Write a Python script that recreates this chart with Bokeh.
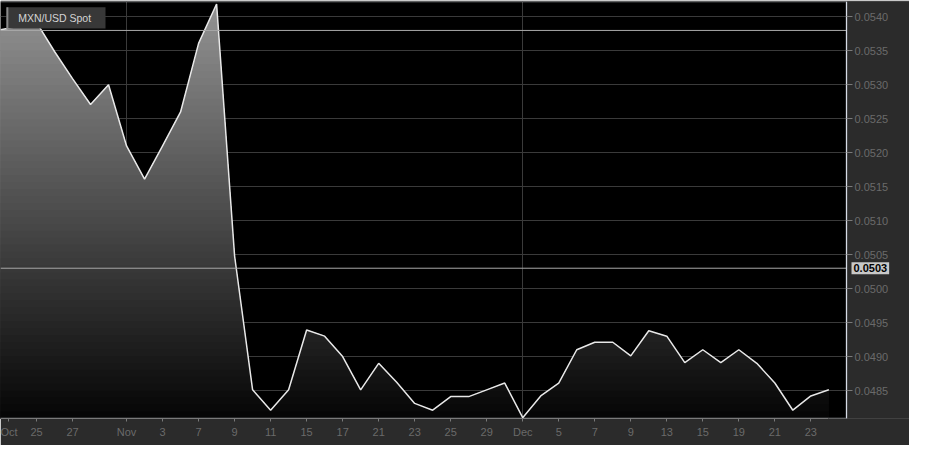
import numpy as np
from bokeh.plotting import figure
from bokeh.models import Range1d, FixedTicker, Label, BoxAnnotation, LinearAxis
from bokeh.embed import file_html
from bokeh.resources import INLINE

# ---------------- data ----------------
series_name = "MXN/USD Spot"
dates = ["2022-10-21", "2022-10-24", "2022-10-25", "2022-10-26", "2022-10-27", "2022-10-28",
         "2022-10-31", "2022-11-01", "2022-11-02", "2022-11-03", "2022-11-04", "2022-11-07",
         "2022-11-08", "2022-11-09", "2022-11-10", "2022-11-11", "2022-11-14", "2022-11-15",
         "2022-11-16", "2022-11-17", "2022-11-18", "2022-11-21", "2022-11-22", "2022-11-23",
         "2022-11-24", "2022-11-25", "2022-11-28", "2022-11-29", "2022-11-30", "2022-12-01",
         "2022-12-02", "2022-12-05", "2022-12-06", "2022-12-07", "2022-12-08", "2022-12-09",
         "2022-12-12", "2022-12-13", "2022-12-14", "2022-12-15", "2022-12-16", "2022-12-19",
         "2022-12-20", "2022-12-21", "2022-12-22", "2022-12-23", "2022-12-26"]
spot = [0.05381, 0.05386, 0.05392, 0.05349, 0.05309, 0.05271, 0.05300, 0.05210, 0.05161,
        0.05210, 0.05260, 0.05361, 0.05419, 0.05048, 0.04851, 0.04821, 0.04851, 0.04939,
        0.04930, 0.04900, 0.04851, 0.04890, 0.04862, 0.04831, 0.04821, 0.04841, 0.04841,
        0.04851, 0.04861, 0.04810, 0.04842, 0.04861, 0.04910, 0.04921, 0.04921, 0.04901,
        0.04938, 0.04930, 0.04891, 0.04910, 0.04891, 0.04910, 0.04890, 0.04861, 0.04821,
        0.04842, 0.04851]
x_tick_dates = ["2022-10-21", "2022-10-25", "2022-10-27", "2022-11-01", "2022-11-03", "2022-11-07",
                "2022-11-09", "2022-11-11", "2022-11-15", "2022-11-17", "2022-11-21", "2022-11-23",
                "2022-11-25", "2022-11-29", "2022-12-01", "2022-12-05", "2022-12-07", "2022-12-09",
                "2022-12-13", "2022-12-15", "2022-12-19", "2022-12-21", "2022-12-23"]
x_tick_labels = ["Oct", "25", "27", "Nov", "3", "7", "9", "11", "15", "17", "21", "23",
                 "25", "29", "Dec", "5", "7", "9", "13", "15", "19", "21", "23"]
month_start_dates = ["2022-11-01", "2022-12-01"]
y_ticks = [0.0485, 0.0490, 0.0495, 0.0500, 0.0505, 0.0510, 0.0515, 0.0520,
           0.0525, 0.0530, 0.0535, 0.0540]
y_tick_labels = ["0.0485", "0.0490", "0.0495", "0.0500", "0.0505", "0.0510", "0.0515",
                 "0.0520", "0.0525", "0.0530", "0.0535", "0.0540"]
ref_level = 0.0538
cursor_level = 0.0503
cursor_text = "0.0503"

# ---------------- layout ----------------
W, H = 909, 445
BOTTOM, TOP = 27, 1
PLOT_W = 846                       # width of the black plotting region
X0, X1 = 0.0, 46.98                # x range of the black plotting region
XE = X0 + (X1 - X0) * W / PLOT_W   # frame also spans the axis strip on the right
Y0, Y1 = 0.048088, 0.054226
REF_W, REF_H = 862.0, 434.0        # reference region size, for placing the legend box


def xd(px):
    return X0 + (X1 - X0) * px / REF_W


def yd(py):
    return Y1 - (Y1 - Y0) * py / REF_H


FONT = "Liberation Sans"
AXIS_BG = "#2b2b2b"
BORDER = "#d6dbe6"

p = figure(width=W, height=H, x_range=Range1d(X0, XE), y_range=Range1d(Y0, Y1),
           y_axis_location=None, output_backend="svg", toolbar_location=None,
           min_border_left=0, min_border_top=TOP, min_border_right=0,
           min_border_bottom=BOTTOM)
p.background_fill_color = "#000000"
p.border_fill_color = AXIS_BG
p.outline_line_color = None

idx = {d: i for i, d in enumerate(dates)}
xs = np.arange(len(spot), dtype=float)
vals = np.array(spot)

# grids
p.ygrid.ticker = FixedTicker(ticks=y_ticks)
p.xgrid.ticker = FixedTicker(ticks=[idx[d] for d in month_start_dates])
p.grid.grid_line_color = "#3a3a3a"
p.grid.grid_line_width = 1

# axis strip on the right (grey), below the axis itself
p.add_layout(BoxAnnotation(left=X1, fill_color=AXIS_BG, fill_alpha=1, line_alpha=0,
                           level="glyph"))

# ---------------- gradient area (stacked bands, painted top colour first) ----------------
n_bands = 60
levels = np.linspace(Y0, Y1, n_bands + 1)
px_, py_ = [xs[0]], [vals[0]]
for i in range(len(vals) - 1):
    a, b = vals[i], vals[i + 1]
    lo, hi = min(a, b), max(a, b)
    cr = levels[(levels > lo) & (levels < hi)]
    if len(cr) and b != a:
        for t in np.sort((cr - a) / (b - a)):
            px_.append(xs[i] + t)
            py_.append(a + t * (b - a))
    px_.append(xs[i + 1])
    py_.append(b)
px_ = np.array(px_)
py_ = np.array(py_)
g_top, g_bot = 148, 5
for k in range(n_bands, 0, -1):
    top = levels[k]
    t = ((levels[k] + levels[k - 1]) / 2 - Y0) / (Y1 - Y0)
    g = int(round(g_bot + (g_top - g_bot) * t))
    p.varea(x=px_, y1=Y0, y2=np.minimum(py_, top), fill_color=(g, g, g))

p.line(xs, vals, line_color="#e8e8e8", line_width=1.5)

# horizontal reference lines across the plotting region only
p.segment(x0=[X0, X0], x1=[X1, X1], y0=[ref_level, cursor_level], y1=[ref_level, cursor_level],
          line_color="#a8a8a8", line_width=1)

# plot border (top + right + bottom-right), left edge kept off-canvas
p.add_layout(BoxAnnotation(left=X0 - 1, right=X1, top=Y1, bottom=Y0, fill_alpha=0,
                           line_color=BORDER, line_width=2, level="glyph"))

# cursor value tag on the axis
p.add_layout(Label(x=X1, y=cursor_level, x_offset=5, text=cursor_text, text_font=FONT,
                   text_font_size="11px", text_font_style="bold", text_color="#000000",
                   text_baseline="middle", text_align="left", background_fill_color="#c8c8c8",
                   padding=2))

# legend box
p.add_layout(BoxAnnotation(left=xd(6), right=xd(107), top=yd(6), bottom=yd(28),
                           fill_color="#383838", fill_alpha=1, line_alpha=0))
p.add_layout(BoxAnnotation(left=xd(6), right=xd(8), top=yd(6), bottom=yd(28),
                           fill_color="#8a8a8a", fill_alpha=1, line_alpha=0))
p.add_layout(Label(x=xd(18), y=yd(17.5), text=series_name, text_font=FONT,
                   text_font_size="10.5px", text_color="#d4d4d4", text_baseline="middle",
                   text_align="left"))

# ---------------- axes ----------------
x_pos = [float(idx[d]) for d in x_tick_dates]
x_pos[0] += 0.45  # first label kept inside the chart edge
p.xaxis.ticker = FixedTicker(ticks=x_pos)
p.xaxis.major_label_overrides = {pos: lab for pos, lab in zip(x_pos, x_tick_labels)}
p.xaxis.bounds = (X0, xs[-1])
p.xaxis.axis_line_color = "#7a7a7a"
p.xaxis.major_tick_line_color = "#7a7a7a"
p.xaxis.major_tick_out = 3
p.xaxis.major_tick_in = 0
p.xaxis.minor_tick_line_color = None
p.xaxis.major_label_text_color = "#6a6a6a"
p.xaxis.major_label_text_font = FONT
p.xaxis.major_label_text_font_size = "11px"
p.xaxis.major_label_standoff = 4

yaxis = LinearAxis(fixed_location=X1, ticker=FixedTicker(ticks=y_ticks),
                   major_label_overrides={t: lab for t, lab in zip(y_ticks, y_tick_labels)})
yaxis.axis_line_color = BORDER
yaxis.major_tick_line_color = "#7a7a7a"
yaxis.major_tick_out = 6
yaxis.major_tick_in = 0
yaxis.minor_tick_line_color = None
yaxis.major_label_text_color = "#6a6a6a"
yaxis.major_label_text_font = FONT
yaxis.major_label_text_font_size = "11px"
yaxis.major_label_standoff = 2
p.add_layout(yaxis, "right")

open("out.html", "w").write(file_html(p, INLINE))
